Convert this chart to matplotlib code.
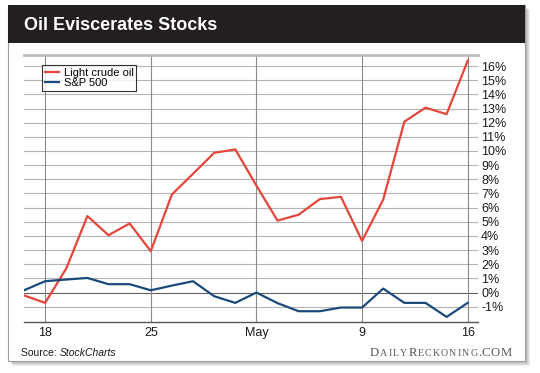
import matplotlib
matplotlib.use("Agg")
import matplotlib.pyplot as plt
from matplotlib.patches import Rectangle
from matplotlib.offsetbox import TextArea, HPacker, AnchoredOffsetbox
from matplotlib.textpath import TextPath
from matplotlib.font_manager import FontProperties

# trading days, Apr 15 .. May 16
dates = ['04-15', '04-18', '04-19', '04-20', '04-21', '04-22',
         '04-25', '04-26', '04-27', '04-28', '04-29',
         '05-02', '05-03', '05-04', '05-05', '05-06',
         '05-09', '05-10', '05-11', '05-12', '05-13', '05-16']
oil = [-0.2, -0.73, 1.7, 5.4, 4.05, 4.88, 2.92, 6.93, 8.39, 9.87, 10.11,
       7.55, 5.08, 5.5, 6.6, 6.76, 3.65, 6.57, 12.07, 13.06, 12.6, 16.38]
spx = [0.16, 0.8, 0.92, 1.03, 0.59, 0.59, 0.16, 0.49, 0.8, -0.26, -0.73,
       0.0, -0.75, -1.32, -1.32, -1.06, -1.06, 0.28, -0.73, -0.73, -1.72, -0.73]
tick_dates = ['04-18', '04-25', '05-02', '05-09', '05-16']
tick_labels = ['18', '25', 'May', '9', '16']
y_ticks = list(range(-1, 17))

plt.rcParams['font.family'] = ['Liberation Sans', 'DejaVu Sans']

W, H = 540, 373
fig = plt.figure(figsize=(W / 100, H / 100), dpi=100)
fig.patch.set_facecolor('white')


def fx(px):
    return px / W


def fy(py):
    return 1 - py / H


# panel shadow
for i in range(1, 6):
    fig.patches.append(Rectangle((fx(8 + i), fy(361 + i)), fx(517), 356 / H,
                                 transform=fig.transFigure, facecolor='black',
                                 alpha=0.07, edgecolor='none', zorder=0))
# panel
fig.patches.append(Rectangle((fx(8), fy(361)), fx(517), 356 / H,
                             transform=fig.transFigure, facecolor='white',
                             edgecolor='#a0a0a0', lw=0.8, zorder=1))
# title bar
fig.patches.append(Rectangle((fx(8), fy(43)), fx(517), 38 / H,
                             transform=fig.transFigure, facecolor='#231f20',
                             edgecolor='none', zorder=2))
fig.text(fx(24), fy(25), 'Oil Eviscerates Stocks', color='white',
         fontsize=13, fontweight='bold', va='center', ha='left', zorder=3)

ax = fig.add_axes([fx(24), fy(321.7), fx(478.3 - 24), (321.7 - 55) / H])
ax.set_zorder(5)
ax.patch.set_alpha(0)

x = list(range(len(dates)))
ax.plot(x, oil, color='#e5463b', lw=1.6, label='Light crude oil', zorder=4)
ax.plot(x, spx, color='#1b4a7a', lw=1.6, label='S&P 500', zorder=4)

ax.set_xlim(0, 21.5)
ax.set_ylim(-2.06, 16.78)

for v in y_ticks:
    ax.axhline(v, color='#606060' if v == 0 else '#b4b4b4', lw=0.8, zorder=1)
for d in tick_dates:
    ax.axvline(dates.index(d), color='#8a8a8a', lw=0.8, zorder=1)

ax.set_xticks([dates.index(d) for d in tick_dates])
ax.set_xticklabels(tick_labels)
ax.set_yticks(y_ticks)
ax.set_yticklabels([f'{v}%' for v in y_ticks])
ax.yaxis.tick_right()
ax.tick_params(axis='y', length=0, pad=2, labelsize=9, colors='#1a1a1a')
ax.tick_params(axis='x', length=0, pad=4, labelsize=9, colors='#1a1a1a')

for s in ['left', 'right']:
    ax.spines[s].set_visible(False)
ax.spines['top'].set_color('#bdbdbd')
ax.spines['top'].set_linewidth(2)
ax.spines['bottom'].set_color('#555555')
ax.spines['bottom'].set_linewidth(1)

leg = ax.legend(loc='upper left', bbox_to_anchor=(fx(42), fy(65)),
                bbox_transform=fig.transFigure, fontsize=8, frameon=True,
                fancybox=False, handlelength=1.3, handletextpad=0.4,
                borderpad=0.25, labelspacing=0.05, borderaxespad=0)
leg.get_frame().set_edgecolor('black')
leg.get_frame().set_linewidth(0.8)

# source note
src = HPacker(children=[TextArea('Source: ', textprops=dict(fontsize=7.5, color='#1a1a1a')),
                        TextArea('StockCharts', textprops=dict(fontsize=7.5, color='#1a1a1a',
                                                              style='italic'))],
              align='baseline', pad=0, sep=0)
fig.add_artist(AnchoredOffsetbox(loc='lower left', child=src, pad=0, borderpad=0,
                                 frameon=False, bbox_to_anchor=(fx(21), fy(358)),
                                 bbox_transform=fig.transFigure))

# watermark: letter-spaced small caps, one character at a time
big, small = 9.2, 7.2
wm_chars = [('D', big)] + [(c, small) for c in 'AILY'] + [('R', big)] + \
           [(c, small) for c in 'ECKONING'] + [(c, big) for c in '.COM']
serif = FontProperties(family='Liberation Serif')
widths = [TextPath((0, 0), c, size=s, prop=serif).get_extents().width * 100 / 72
          for c, s in wm_chars]
left, right = 370, 511.5
track = (right - left - sum(widths)) / (len(wm_chars) - 1)
xpos = left
for (c, s), w in zip(wm_chars, widths):
    t = fig.text(0, fy(356.5), c, fontsize=s, color='#585858',
                 family='Liberation Serif', va='baseline', ha='center')
    t.set_x(fx(xpos + w / 2))
    xpos += w + track

fig.savefig('out.png', dpi=100)
